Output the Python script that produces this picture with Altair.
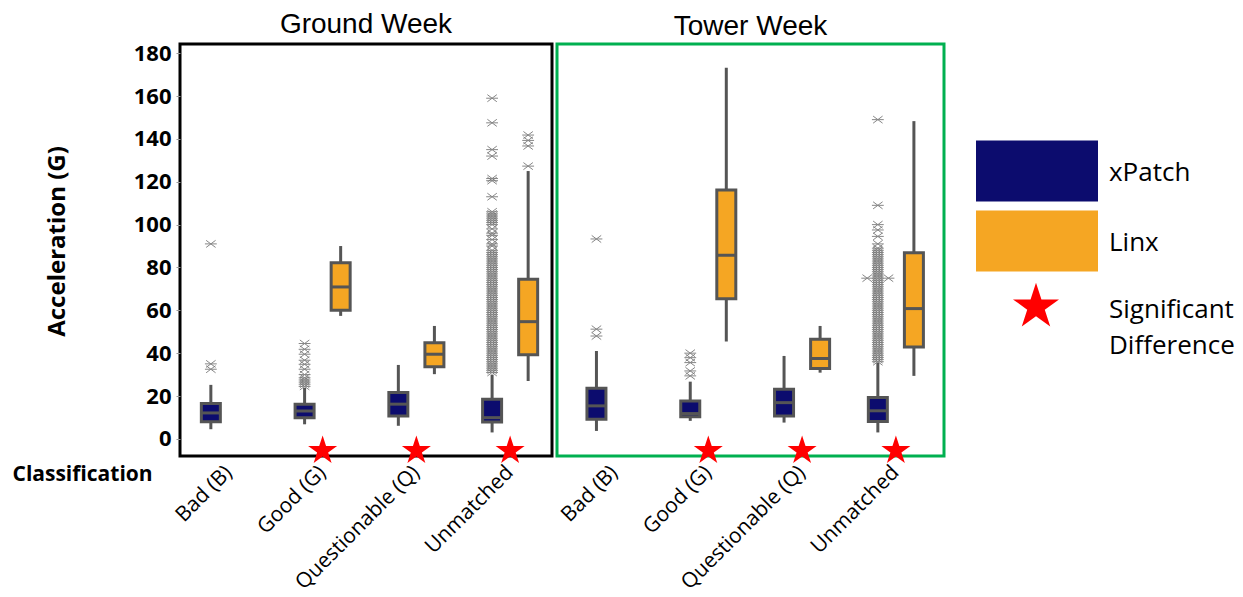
import altair as alt
import pandas as pd

# ---------------- data ----------------
classes = ["Bad (B)", "Good (G)", "Questionable (Q)", "Unmatched"]
devices = ["xPatch", "Linx"]
y_ticks = [0, 20, 40, 60, 80, 100, 120, 140, 160, 180]

# box summaries (week, class, device, low whisker, q1, median, q3, high whisker)
box_week = ["Ground Week", "Ground Week", "Ground Week", "Ground Week", "Ground Week", "Ground Week", "Ground Week",
            "Tower Week", "Tower Week", "Tower Week", "Tower Week", "Tower Week", "Tower Week", "Tower Week"]
box_class = ["Bad (B)", "Good (G)", "Good (G)", "Questionable (Q)", "Questionable (Q)", "Unmatched", "Unmatched",
             "Bad (B)", "Good (G)", "Good (G)", "Questionable (Q)", "Questionable (Q)", "Unmatched", "Unmatched"]
box_device = ["xPatch", "xPatch", "Linx", "xPatch", "Linx", "xPatch", "Linx",
              "xPatch", "xPatch", "Linx", "xPatch", "Linx", "xPatch", "Linx"]
box_low = [4.5, 6.8, 57.4, 6.1, 30.2, 3.0, 27.0,
           3.7, 8.4, 45.4, 7.6, 30.9, 3.0, 29.4]
box_q1 = [8.0, 9.9, 60.0, 10.7, 33.6, 7.9, 39.2,
          9.2, 10.3, 65.4, 10.7, 32.8, 8.1, 42.9]
box_median = [12.1, 13.0, 70.9, 16.2, 39.5, 9.9, 54.7,
              15.4, 11.8, 85.7, 16.9, 37.5, 13.1, 60.8]
box_q3 = [16.5, 16.2, 82.2, 21.6, 44.9, 18.5, 74.5,
          23.6, 17.7, 116.1, 23.2, 46.5, 19.3, 86.9]
box_high = [25.2, 23.9, 90.0, 34.5, 52.7, 30.0, 125.0,
            41.0, 26.7, 173.2, 38.7, 52.7, 35.6, 148.3]

# outliers
ground_bad_xpatch_out = [32.5, 35.0, 91.0]
ground_good_xpatch_out = [24.5, 25.5, 26.5, 27.5, 28.5, 30.0, 32.5, 34.8, 36.7, 39.5, 41.8, 44.5]
ground_unmatched_xpatch_out = [31, 32, 33, 34, 35, 36, 37, 38, 39, 40, 41, 42, 43, 44, 45, 46, 47, 48, 49, 50,
                               51, 52, 53, 54, 55, 56, 57, 58, 59, 60, 61, 62, 63, 64, 65, 66, 67, 68, 69, 70,
                               71, 72, 73, 74, 75, 76, 77, 78, 79, 80, 81, 82, 83, 84, 85, 86, 87, 88, 90, 91,
                               93, 95, 96, 98, 100, 101, 102, 103, 104, 105, 106, 113, 120.5, 121.5, 132, 135,
                               147.5, 159]
ground_unmatched_linx_out = [127.3, 136.7, 139.3, 141.8]
tower_bad_xpatch_out = [48.0, 51.2, 93.3]
tower_good_xpatch_out = [29.4, 31.7, 35.6, 37.9, 40.0]
tower_unmatched_xpatch_out = [36, 37, 38, 39, 40, 41, 42, 43, 44, 45, 46, 47, 48, 49, 50, 51, 52, 53, 54, 55,
                              56, 57, 58, 59, 60, 61, 62, 63, 64, 65, 66, 67, 68, 69, 70, 71, 72, 73, 74, 75,
                              76, 77, 78, 79, 80, 81, 82, 83, 84, 85, 86, 87, 88, 89, 91, 94.5, 97.5, 100,
                              109, 149]
tower_unmatched_side_out = [75.0]

# significant differences
sig_week = ["Ground Week", "Ground Week", "Ground Week", "Tower Week", "Tower Week", "Tower Week"]
sig_class = ["Good (G)", "Questionable (Q)", "Unmatched", "Good (G)", "Questionable (Q)", "Unmatched"]
sig_value = [-5.5, -5.5, -5.5, -5.5, -5.5, -5.5]

legend_items = ["xPatch", "Linx", "Significant Difference"]
legend_text = ["xPatch", "Linx", "Significant\nDifference"]

# ---------------- styles ----------------
BOX_COLORS = ["#0c0c6e", "#f5a623"]
LEGEND_COLORS = ["#002060", "#f0a30f"]
GRAY = "#555555"
ASTERISK = "M-1,0L1,0M-0.8,-0.6L0.8,0.6M-0.8,0.6L0.8,-0.6"
ASTERISK_L = "M-2.8,0L-0.8,0M-2.6,-0.6L-1,0.6M-2.6,0.6L-1,-0.6"
ASTERISK_R = "M0.8,0L2.8,0M1,-0.6L2.6,0.6M1,0.6L2.6,-0.6"
STAR = ("M0,-1L0.225,-0.309L0.951,-0.309L0.363,0.118L0.588,0.809L0,0.382"
        "L-0.588,0.809L-0.363,0.118L-0.951,-0.309L-0.225,-0.309Z")
# legend star: same star, drawn slightly above its anchor
STAR_LEG = ("M0,-1.17L0.225,-0.479L0.951,-0.479L0.363,-0.052L0.588,0.639L0,0.212"
            "L-0.588,0.639L-0.363,-0.052L-0.951,-0.479L-0.225,-0.479Z")

boxes = pd.DataFrame({"week": box_week, "cls": box_class, "device": box_device,
                      "low": box_low, "q1": box_q1, "median": box_median,
                      "q3": box_q3, "high": box_high})

out_groups = [
    ("Ground Week", "Bad (B)", "xPatch", ground_bad_xpatch_out),
    ("Ground Week", "Good (G)", "xPatch", ground_good_xpatch_out),
    ("Ground Week", "Unmatched", "xPatch", ground_unmatched_xpatch_out),
    ("Ground Week", "Unmatched", "Linx", ground_unmatched_linx_out),
    ("Tower Week", "Bad (B)", "xPatch", tower_bad_xpatch_out),
    ("Tower Week", "Good (G)", "xPatch", tower_good_xpatch_out),
    ("Tower Week", "Unmatched", "xPatch", tower_unmatched_xpatch_out),
]
rows = []
for wk, cl, dv, vals in out_groups:
    for v in vals:
        rows.append({"week": wk, "cls": cl, "device": dv, "value": v})
outliers = pd.DataFrame(rows)

side_rows = []
for v in tower_unmatched_side_out:
    side_rows.append({"week": "Tower Week", "cls": "Unmatched", "device": "xPatch", "value": v, "side": "L"})
    side_rows.append({"week": "Tower Week", "cls": "Unmatched", "device": "xPatch", "value": v, "side": "R"})
side = pd.DataFrame(side_rows)

sig = pd.DataFrame({"week": sig_week, "cls": sig_class, "value": sig_value})

legend_df = pd.DataFrame({"item": legend_items, "label": legend_text})

Y_DOMAIN = [-8, 184.3]


def panel(week, width, frame_color, x_range, first):
    y_axis = alt.Axis(values=y_ticks, grid=False, domain=False, ticks=True, tickSize=4,
                      tickColor="#999999", labelFont="Open Sans", labelFontSize=22,
                      labelFontWeight="bold", labelColor="black", labelPadding=5,
                      title="Acceleration (G)", titleFont="Open Sans", titleFontSize=24,
                      titleFontWeight="bold", titleColor="black", titleAngle=270,
                      titleX=-123, titleY=197, titleAlign="center", titleBaseline="middle") if first else None
    y_scale = alt.Scale(domain=Y_DOMAIN, nice=False, zero=False)
    if first:
        x_axis = alt.Axis(labelAngle=315, labelAlign="right", labelBaseline="middle",
                          labelFont="Open Sans", labelFontSize=21, labelColor="black",
                          labelPadding=13, ticks=False, domain=False, grid=False,
                          title="Classification",
                          titleFont="Open Sans", titleFontSize=21, titleFontWeight="bold",
                          titleColor="black", titleX=-168, titleY=18, titleAlign="left",
                          titleBaseline="middle", titleAnchor="start")
    else:
        x_axis = alt.Axis(labelAngle=315, labelAlign="right", labelBaseline="middle",
                          labelFont="Open Sans", labelFontSize=21, labelColor="black",
                          labelPadding=13, ticks=False, domain=False, grid=False, title=None)
    x_scale = alt.Scale(domain=classes, range=x_range, paddingInner=0, paddingOuter=0)
    xo = alt.XOffset("device:N", scale=alt.Scale(domain=devices, paddingInner=0, paddingOuter=0.3))
    x = alt.X("cls:N", scale=x_scale, axis=x_axis)

    bdf = boxes[boxes.week == week]
    odf = outliers[outliers.week == week]
    sdf = sig[sig.week == week]

    whisk = alt.Chart(bdf).mark_rule(color=GRAY, strokeWidth=3).encode(
        x=x, xOffset=xo,
        y=alt.Y("low:Q", scale=y_scale, axis=y_axis), y2="high:Q")
    box = alt.Chart(bdf).mark_bar(size=19, stroke=GRAY, strokeWidth=3).encode(
        x=x, xOffset=xo, y=alt.Y("q1:Q", scale=y_scale), y2="q3:Q",
        fill=alt.Fill("device:N", scale=alt.Scale(domain=devices, range=BOX_COLORS), legend=None))
    med = alt.Chart(bdf).mark_tick(color=GRAY, thickness=3, size=19, opacity=1).encode(
        x=x, xOffset=xo, y=alt.Y("median:Q", scale=y_scale))
    outs = alt.Chart(odf).mark_point(shape=ASTERISK, size=140, filled=False, stroke="#7a7a7a",
                                     strokeWidth=1, opacity=0.9).encode(
        x=x, xOffset=xo, y=alt.Y("value:Q", scale=y_scale))
    stars = alt.Chart(sdf).mark_point(shape=STAR, size=930, filled=True, fill="#ff0000",
                                      strokeWidth=0, opacity=1).encode(
        x=x, y=alt.Y("value:Q", scale=y_scale))
    layers = [whisk, box, med, outs]
    sd = side[side.week == week]
    if len(sd):
        sides = alt.Chart(sd).mark_point(size=140, filled=False, stroke="#7a7a7a",
                                         strokeWidth=1, opacity=0.9).encode(
            x=x, xOffset=xo, y=alt.Y("value:Q", scale=y_scale),
            shape=alt.Shape("side:N", scale=alt.Scale(domain=["L", "R"], range=[ASTERISK_L, ASTERISK_R]),
                            legend=None))
        layers.append(sides)
    layers.append(stars)
    return alt.layer(*layers).properties(
        width=width, height=412,
        title=alt.TitleParams(week, font="Liberation Sans", fontSize=28, fontWeight="normal",
                              color="black", offset=3, anchor="middle"),
        view=alt.ViewBackground(stroke=frame_color, strokeWidth=3))


ground = panel("Ground Week", 372, "black", [2, 377], True)
tower = panel("Tower Week", 387, "#00b050", [10.6, 385.8], False)

ly = alt.Y("item:N", axis=None,
           scale=alt.Scale(domain=legend_items, range=[92, 302], paddingInner=0.13, paddingOuter=0.065))
leg_rect = alt.Chart(legend_df[legend_df.item != "Significant Difference"]).mark_rect().encode(
    y=ly, x=alt.value(27), x2=alt.value(149),
    fill=alt.Fill("item:N", scale=alt.Scale(domain=["xPatch", "Linx"], range=LEGEND_COLORS), legend=None))
leg_star = alt.Chart(legend_df[legend_df.item == "Significant Difference"]).mark_point(
    shape=STAR_LEG, size=2340, filled=True, fill="#ff0000", strokeWidth=0, opacity=1).encode(
    y=ly, x=alt.value(87))
leg_text1 = alt.Chart(legend_df[legend_df.item != "Significant Difference"]).mark_text(
    align="left", baseline="middle", font="Open Sans", fontSize=26, color="black", dy=2).encode(
    y=ly, x=alt.value(160), text="label:N")
leg_text2 = alt.Chart(legend_df[legend_df.item == "Significant Difference"]).mark_text(
    align="left", baseline="middle", font="Open Sans", fontSize=26, color="black", dy=-1,
    lineBreak="\n", lineHeight=36).encode(
    y=ly, x=alt.value(160), text="label:N")
legend = alt.layer(leg_rect, leg_star, leg_text1, leg_text2).properties(
    width=250, height=412, view=alt.ViewBackground(strokeWidth=0))

chart = alt.hconcat(ground, tower, legend, spacing=5, bounds="flush").configure_view(
    stroke="transparent").properties(
    padding={"left": 2, "top": 1, "right": 0, "bottom": 0})

chart.save("out.html", embed_options={"renderer": "svg", "actions": False})
